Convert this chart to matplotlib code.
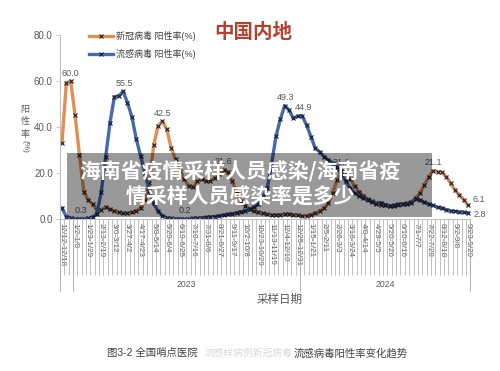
import numpy as np
import matplotlib.pyplot as plt
from matplotlib.patches import Rectangle

plt.rcParams['font.family'] = ['Liberation Sans', 'Noto Sans CJK SC', 'DejaVu Sans']

# weekly positive rate (%), 2022-12-12 .. 2024-09-29
covid = [33.2, 59.3, 60.0, 45.1, 28.0, 12.0, 8.5, 6.5, 4.0, 4.2,
         5.2, 4.3, 3.6, 3.0, 2.6, 2.6, 3.0, 3.6, 4.8, 8.4,
         15.6, 32.2, 40.5, 42.5, 39.0, 31.0, 26.0, 21.0, 17.5, 14.5,
         14.0, 16.5, 17.5, 16.5, 16.8, 17.8, 19.5, 21.6, 20.5, 16.5,
         11.5, 8.0, 5.8, 4.3, 3.5, 3.0, 2.6, 2.1, 1.9, 1.8,
         2.0, 2.2, 2.2, 2.0, 1.8, 1.3, 1.5, 2.0, 2.6, 3.4,
         4.8, 7.0, 11.5, 17.0, 21.1, 20.3, 17.5, 14.5, 12.0, 10.2,
         8.8, 7.8, 7.2, 6.4, 6.0, 5.8, 5.8, 6.1, 6.6, 7.0,
         7.6, 9.2, 11.5, 14.9, 18.5, 21.1, 20.7, 20.4, 18.5, 15.6,
         12.7, 10.5, 8.5, 6.1]
flu = [4.8, 1.2, 0.5, 0.3, 0.3, 0.3, 0.4, 0.8, 2.5, 12.0,
       27.0, 42.0, 53.2, 53.5, 55.5, 50.6, 44.5, 35.0, 27.5, 20.0,
       12.5, 7.0, 3.5, 1.5, 0.6, 0.4, 0.3, 0.3, 0.2, 0.3,
       0.4, 0.5, 0.6, 0.8, 1.0, 1.2, 1.5, 1.8, 2.1, 2.4,
       2.8, 3.2, 3.7, 4.3, 5.3, 6.5, 9.5, 13.5, 24.0, 36.0,
       43.5, 49.3, 47.4, 43.8, 44.8, 44.9, 40.9, 35.9, 30.8, 29.3,
       27.2, 25.7, 24.3, 22.5, 19.5, 16.5, 13.5, 11.5, 10.2, 9.3,
       8.3, 7.6, 6.8, 7.2, 6.4, 5.8, 6.0, 6.5, 6.5, 6.6,
       7.2, 8.8, 8.3, 7.3, 6.6, 6.0, 5.2, 4.9, 4.2, 3.7,
       3.4, 3.2, 3.0, 2.8]

week_labels = ['12/12-12/18', '1/2-1/8', '1/23-1/29', '2/13-2/19', '3/6-3/12',
               '3/27-4/2', '4/17-4/23', '5/8-5/14', '5/29-6/4', '6/19-6/25',
               '7/10-7/16', '7/31-8/6', '8/21-8/27', '9/11-9/17', '10/2-10/8',
               '10/23-10/29', '11/13-11/19', '12/4-12/10', '12/25-12/31', '1/15-1/21',
               '2/5-2/11', '2/26-3/3', '3/18-3/24', '4/8-4/14', '4/29-5/5',
               '5/20-5/26', '6/10-6/16', '7/1-7/7', '7/22-7/28', '8/12-8/18',
               '9/2-9/8', '9/23-9/29']
years = ['2023', '2024']
year_edges = [-0.5, 2.5, 54.5, 93.5]   # first group (2022) has no label

covid_marked = [2, 23, 37, 64, 85, 93]
flu_marked = [4, 14, 28, 51, 55, 93]

W, H = 500, 371
def fx(px):
    return px / W
def fy(py):
    return 1 - py / H

fig = plt.figure(figsize=(5, 3.71), dpi=100)
ax = fig.add_axes([fx(59.8), fy(219.3), (470.3 - 59.8) / W, (219.3 - 35) / H])

orange = '#E08F52'
blue = '#4568AE'
mk = '#1b1b2f'
grey = '#595959'
x = np.arange(len(covid))
l1, = ax.plot(x, covid, color=orange, lw=2.4, marker='x', ms=2.6, mec=mk, mew=0.8,
              solid_joinstyle='round', label='新冠病毒 阳性率(%)')
l2, = ax.plot(x, flu, color=blue, lw=2.4, marker='x', ms=2.6, mec=mk, mew=0.8,
              solid_joinstyle='round', label='流感病毒 阳性率(%)')

ax.set_xlim(-0.5, len(covid) - 0.5)
ax.set_ylim(0, 80)
ax.set_yticks(np.arange(0, 81, 20))
ax.set_yticklabels(['%.1f' % v for v in np.arange(0, 81, 20)])
ax.tick_params(axis='y', direction='out', length=3, width=0.6, color='#BFBFBF',
               labelsize=7, labelcolor=grey, pad=2)
for s in ['top', 'right']:
    ax.spines[s].set_visible(False)
for s in ['left', 'bottom']:
    ax.spines[s].set_color('#BFBFBF')
    ax.spines[s].set_linewidth(0.8)

ax.set_xticks(np.arange(0, len(covid), 3))
ax.set_xticklabels(week_labels, rotation=-90, fontsize=5.8, color=grey)
ax.set_xticks(np.arange(-0.5, len(covid), 1), minor=True)
ax.tick_params(axis='x', which='major', length=0, pad=2.5)
ax.tick_params(axis='x', which='minor', length=40, width=0.5, color='#A6A6A6')

tr = ax.get_xaxis_transform()
for e in year_edges:
    ax.plot([e, e], [0, -0.39], transform=tr, color='#A6A6A6', lw=0.6, clip_on=False)
for k, yr in enumerate(years):
    mid = (year_edges[k + 1] + year_edges[k + 2]) / 2
    ax.text(mid, -0.356, yr, transform=tr, ha='center', va='center', fontsize=6.2, color=grey)

# data labels
for i in covid_marked:
    off = (11, 6) if i == len(covid) - 1 else (0, 8)
    ax.annotate('%.1f' % covid[i], (i, covid[i]), xytext=off, textcoords='offset pixels',
                ha='center', va='center', fontsize=6.5, color=grey)
for i in flu_marked:
    off = (12, -2) if i == len(flu) - 1 else (1, 8)
    ax.annotate('%.1f' % flu[i], (i, flu[i]), xytext=off, textcoords='offset pixels',
                ha='center', va='center', fontsize=6.5, color=grey)

leg = ax.legend(handles=[l1, l2], loc='upper left', bbox_to_anchor=(fx(89), fy(31)),
                bbox_transform=fig.transFigure, frameon=False, fontsize=6.5,
                handlelength=2.7, handletextpad=0.3, labelspacing=0.9,
                borderpad=0, borderaxespad=0, numpoints=1)
for t in leg.get_texts():
    t.set_color('#404040')

fig.text(fx(253), fy(32), '中国内地', fontsize=14, fontweight='bold', color='#B5402F',
         family='Noto Sans CJK SC', ha='center', va='center')

fig.text(fx(25), fy(122), '阳\n性\n率', fontsize=6.5, color=grey, ha='center', va='center',
         linespacing=1.45)
fig.text(fx(25), fy(146), '(%)', fontsize=6, color=grey, ha='center', va='center', rotation=-90)
fig.text(fx(280), fy(300), '采样日期', fontsize=8.3, color=grey, ha='center', va='center')

# caption
fig.text(fx(107), fy(353), '图3-2 全国哨点医院', fontsize=7.5, color='#404040', ha='left', va='center')
fig.text(fx(248), fy(353), '流感样病例新冠病毒', fontsize=7, color='#DCD6DE', ha='center', va='center')
fig.text(fx(408), fy(353), '流感病毒阳性率变化趋势', fontsize=7.5, color='#404040', ha='right', va='center')

# overlay banner
fig.add_artist(Rectangle((fx(67), fy(217)), (432 - 67) / W, (217 - 153) / H,
                         transform=fig.transFigure, facecolor='black', alpha=0.4,
                         edgecolor='none', zorder=5))
fig.text(fx(240), fy(184), '海南省疫情采样人员感染/海南省疫\n情采样人员感染率是多少',
         color='white', fontsize=15, fontweight='bold', family='Noto Sans CJK SC',
         ha='center', va='center', linespacing=1.2, zorder=6)

fig.savefig('out.png', dpi=100)
